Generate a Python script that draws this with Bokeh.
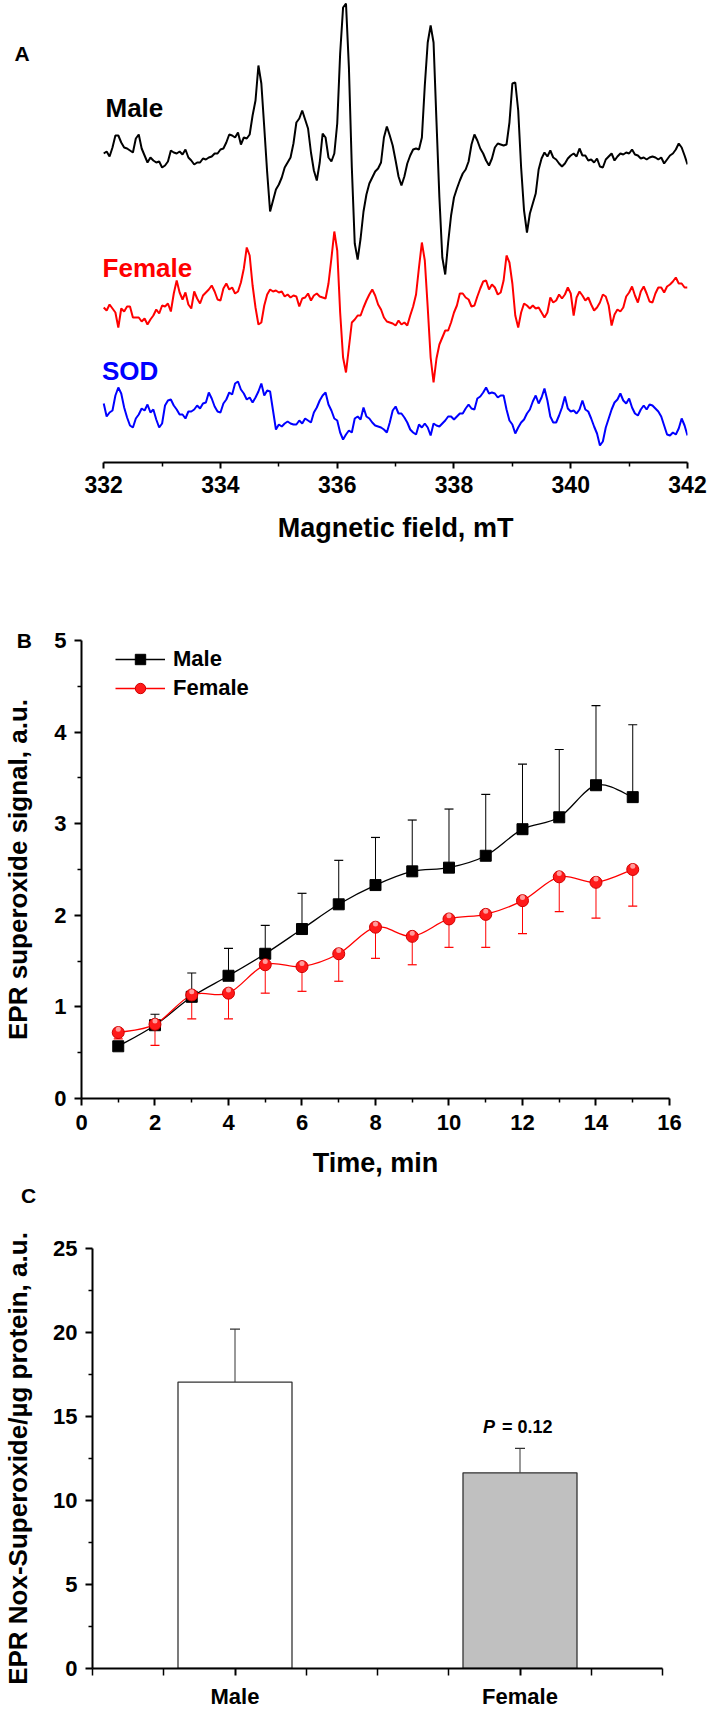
import numpy as np
from bokeh.plotting import figure
from bokeh.models import (Range1d, FixedTicker, Label, Legend, LegendItem, Whisker,
                          TeeHead, ColumnDataSource)
from bokeh.layouts import column, row
from bokeh.embed import file_html
from bokeh.resources import INLINE

FONT = "Liberation Sans"

# ------------------------------------------------------------------
# Panel A : EPR spectra (intensity, arbitrary units, sampled every 0.05 mT)
# ------------------------------------------------------------------
field_start, field_end = 332.0, 342.0
field_ticks = [332, 334, 336, 338, 340, 342]
field_minor = [333, 335, 337, 339, 341]
trace_names = ["Male", "Female", "SOD"]

male_epr = [2, 4, -1, 8, 20, 20, 13, 8, 7, 5,
            3, 17, 21, 7, 0, -7, -2, -5, -7, -6,
            -12, -10, -6, 5, 3, 2, 4, 1, 6, -2,
            -5, -9, -7, -7, -3, -4, -2, -1, 2, 2,
            6, 7, 13, 21, 20, 18, 23, 11, 18, 17,
            21, 40, 55, 90, 72, 28, -17, -56, -45, -34,
            -29, -22, -12, -7, -2, 12, 33, 37, 45, 36,
            27, 3, -15, -25, -7, 22, 18, -2, -6, 2,
            32, 102, 148, 152, 88, -12, -88, -104, -83, -56,
            -39, -28, -22, -16, -13, -7, 18, 29, 20, 10,
            -5, -21, -30, -21, -8, 0, 6, 7, 6, 18,
            70, 113, 130, 113, 34, -42, -102, -119, -87, -60,
            -42, -33, -25, -18, -14, -6, 11, 21, 15, 7,
            2, -5, -10, -3, 8, 12, 11, 10, 11, 33,
            72, 73, 45, -12, -55, -77, -58, -48, -38, -14,
            -3, 3, -1, 5, -2, -4, -8, -11, -8, -3,
            0, 2, -1, 7, 0, 0, -5, -4, -7, -3,
            -11, -12, -4, -1, 2, -5, -1, 2, 1, 3,
            2, 6, 1, 0, -3, -2, -4, -2, -1, -2,
            -4, -2, -8, -4, 0, 2, 6, 12, 8, 0,
            -9]

female_epr = [-2, -5, 1, -3, -7, -22, -3, -6, -1, -1,
              -12, -12, -12, -16, -13, -19, -14, -10, -4, -8,
              0, -1, 2, -6, 12, 25, 13, 6, 13, 1,
              -3, 14, 7, 2, 10, 13, 16, 20, 14, 6,
              5, 17, 22, 16, 18, 12, 14, 23, 37, 58,
              50, 20, -2, -19, -17, 0, 11, 16, 14, 15,
              13, 14, 9, 11, 8, 10, 9, -1, 7, 8,
              12, 5, 10, 12, 9, 8, 7, 22, 47, 74,
              55, -7, -52, -67, -42, -17, -14, -10, -10, -2,
              5, 11, 16, 10, 1, -4, -12, -16, -17, -18,
              -20, -15, -19, -17, -20, -10, -1, 11, 38, 63,
              45, -2, -52, -77, -53, -39, -32, -25, -25, -17,
              -7, 0, 12, 12, 8, 6, -1, 0, 9, 17,
              24, 25, 16, 21, 18, 11, 13, 25, 50, 43,
              22, -10, -22, -7, 2, 0, -3, 0, -3, -2,
              -7, -12, -7, 8, 3, 5, 11, 7, 11, 18,
              12, -10, 8, 14, 10, 5, 8, 1, -5, -2,
              3, 11, 9, 0, -20, -9, -4, -6, -2, 9,
              13, 19, 10, 3, 14, 19, 12, 4, 3, 12,
              18, 18, 13, 19, 21, 24, 28, 22, 22, 18,
              18]

sod_epr = [7, -6, -2, 0, 15, 23, 17, 3, -7, -15,
           -17, -8, -4, 2, 0, 6, -2, 1, -9, -17,
           -13, 5, 10, 11, 5, 1, -4, -4, -8, -1,
           -1, 1, 5, 2, 7, 8, 18, 12, 4, -1,
           -2, 7, 11, 18, 16, 27, 29, 21, 17, 11,
           13, 8, 13, 19, 27, 15, 20, 19, 0, -19,
           -14, -16, -13, -11, -13, -14, -14, -10, -13, -8,
           -10, -12, -2, 3, 10, 15, 18, 6, 0, -8,
           -10, -22, -29, -24, -20, -22, -8, -6, -9, 3,
           -6, -8, -12, -15, -16, -17, -19, -22, -12, 0,
           4, -3, -3, -7, -12, -19, -22, -24, -14, -17,
           -13, -17, -25, -13, -15, -16, -13, -10, -6, -6,
           -9, -6, -3, -3, 2, 6, 2, 1, 12, 14,
           18, 23, 17, 18, 17, 13, 15, 15, 1, -10,
           -14, -23, -17, -12, -9, -3, 1, 9, 15, 7,
           13, 22, 10, -6, -12, -12, -5, 3, 14, 2,
           -1, 0, -3, 1, 10, 1, -1, -8, -16, -23,
           -35, -31, -17, -8, 1, 8, 11, 17, 10, 7,
           12, 3, -3, -5, 1, 5, 1, 6, 5, 2,
           -1, -6, -15, -24, -25, -22, -24, -18, -8, -15,
           -25]

# ------------------------------------------------------------------
# Panel B : time course
# ------------------------------------------------------------------
time_min = [1, 2, 3, 4, 5, 6, 7, 8, 9, 10, 11, 12, 13, 14, 15]
male_mean = [0.57, 0.80, 1.11, 1.34, 1.58, 1.85, 2.12, 2.33, 2.48, 2.52, 2.65, 2.94, 3.07, 3.42, 3.29]
male_sem = [0.05, 0.12, 0.26, 0.30, 0.31, 0.39, 0.48, 0.52, 0.56, 0.64, 0.67, 0.71, 0.74, 0.87, 0.79]
female_mean = [0.72, 0.81, 1.13, 1.15, 1.46, 1.44, 1.58, 1.87, 1.77, 1.96, 2.01, 2.16, 2.42, 2.36, 2.50]
female_sem = [0.07, 0.23, 0.26, 0.28, 0.31, 0.27, 0.30, 0.34, 0.31, 0.31, 0.36, 0.36, 0.38, 0.39, 0.40]
time_ticks = [0, 2, 4, 6, 8, 10, 12, 14, 16]
time_minor = [1, 3, 5, 7, 9, 11, 13, 15]
signal_ticks = [0, 1, 2, 3, 4, 5]
signal_minor = [0.5, 1.5, 2.5, 3.5, 4.5]

# ------------------------------------------------------------------
# Panel C : bar chart
# ------------------------------------------------------------------
groups = ["Male", "Female"]
nox_mean = [17.05, 11.65]
nox_sem = [3.15, 1.45]
p_value = "0.12"
nox_ticks = [0, 5, 10, 15, 20, 25]
nox_minor = [2.5, 7.5, 12.5, 17.5, 22.5]

W = 709


def base_fig(height, xr, yr, left, right, top, bottom, y_axis=True):
    kw = dict(width=W, height=height, x_range=xr, y_range=yr,
              output_backend="svg", toolbar_location=None,
              min_border_left=left, min_border_right=right,
              min_border_top=top, min_border_bottom=bottom)
    if not y_axis:
        kw["y_axis_location"] = None
    p = figure(**kw)
    p.xgrid.visible = False
    p.ygrid.visible = False
    p.outline_line_color = None
    p.background_fill_color = "white"
    p.border_fill_color = "white"
    return p


def style_axis(ax, tick_size, title_size, label_standoff, title_standoff,
               major_out=7, minor_out=4):
    ax.axis_line_width = 2
    ax.axis_line_color = "black"
    ax.major_tick_line_width = 2
    ax.minor_tick_line_width = 1.5
    ax.major_tick_in = 0
    ax.minor_tick_in = 0
    ax.major_tick_out = major_out
    ax.minor_tick_out = minor_out
    ax.major_label_text_font = FONT
    ax.major_label_text_font_style = "bold"
    ax.major_label_text_font_size = tick_size
    ax.major_label_text_color = "black"
    ax.major_label_standoff = label_standoff
    ax.axis_label_text_font = FONT
    ax.axis_label_text_font_style = "bold"
    ax.axis_label_text_font_size = title_size
    ax.axis_label_text_color = "black"
    ax.axis_label_standoff = title_standoff


def make_label(x, y, text, size="19px", color="black", align="left", style="bold", x_offset=0):
    return Label(x=x, y=y, text=text, text_font=FONT, text_font_size=size,
                 text_font_style=style, text_color=color, text_align=align,
                 text_baseline="middle", x_offset=x_offset)


# ================= Panel A =================
pa = base_fig(568, Range1d(331.585, field_end), Range1d(-462, 0), 79, 22, 0, 106, y_axis=False)
trace_data = {"Male": male_epr, "Female": female_epr, "SOD": sod_epr}
trace_color = {"Male": "black", "Female": "#ff0000", "SOD": "#0000ff"}
trace_base = {"Male": -155, "Female": -305, "SOD": -410}
label_lift = {"Male": 48, "Female": 38, "SOD": 40}
label_dx = {"Male": 0.03, "Female": -0.02, "SOD": -0.03}
for name in trace_names:
    vals = np.asarray(trace_data[name], dtype=float)
    fld = np.linspace(field_start, field_end, len(vals))
    pa.line(fld, vals + trace_base[name], line_color=trace_color[name], line_width=2)
    pa.add_layout(make_label(field_start + label_dx[name], trace_base[name] + label_lift[name],
                             name, size="26px", color=trace_color[name]))
pa.xaxis.ticker = FixedTicker(ticks=field_ticks, minor_ticks=field_minor)
pa.xaxis.bounds = (field_start, field_end)
style_axis(pa.xaxis[0], "23px", "27px", 7, 8, major_out=6, minor_out=4)
pa.add_layout(make_label((field_start + field_end) / 2, -527, "Magnetic field, mT",
                         size="27px", align="center"), "below")
pa.add_layout(make_label(330.47, -53, "A", size="21px"), "left")

# ================= Panel B =================
pb = base_fig(612, Range1d(0, 16.49), Range1d(0, 5), 79, 22, 72, 82)


def catmull_bezier(xs, ys):
    P = np.column_stack([xs, ys]).astype(float)
    prev = np.vstack([P[:1], P[:-1]])
    nxt = np.vstack([P[1:], P[-1:]])
    tang = (nxt - prev) / 6.0
    c0 = P[:-1] + tang[:-1]
    c1 = P[1:] - tang[1:]
    return ColumnDataSource(dict(x0=P[:-1, 0], y0=P[:-1, 1], x1=P[1:, 0], y1=P[1:, 1],
                                 cx0=c0[:, 0], cy0=c0[:, 1], cx1=c1[:, 0], cy1=c1[:, 1]))


male_up = [m + s for m, s in zip(male_mean, male_sem)]
female_lo = [m - s for m, s in zip(female_mean, female_sem)]
pb.add_layout(Whisker(source=ColumnDataSource(dict(x=time_min, lo=male_mean, hi=male_up)),
                      base="x", lower="lo", upper="hi", line_color="black", line_width=1,
                      upper_head=TeeHead(size=9, line_color="black", line_width=1.2),
                      lower_head=None))
pb.add_layout(Whisker(source=ColumnDataSource(dict(x=time_min, lo=female_lo, hi=female_mean)),
                      base="x", lower="lo", upper="hi", line_color="#ff0000", line_width=1,
                      lower_head=TeeHead(size=9, line_color="#ff0000", line_width=1.2),
                      upper_head=None))

bz_kw = dict(x0="x0", y0="y0", x1="x1", y1="y1", cx0="cx0", cy0="cy0", cx1="cx1", cy1="cy1")
pb.bezier(source=catmull_bezier(time_min, male_mean), line_color="black", line_width=1.3, **bz_kw)
pb.bezier(source=catmull_bezier(time_min, female_mean), line_color="#ff0000", line_width=1.3, **bz_kw)

m_sc = pb.scatter(time_min, male_mean, marker="square", size=11,
                  fill_color="black", line_color="black")
f_sc = pb.scatter(time_min, female_mean, marker="circle", size=12,
                  fill_color="#ff1a1a", line_color="#d00000", line_width=1)
# glossy highlight on the female spheres (style only)
pb.scatter(time_min, [m + 0.035 for m in female_mean], marker="circle", size=5,
           fill_color="#ff9c9c", line_color=None)

nan = float("nan")
leg_m = pb.line([nan], [nan], line_color="black", line_width=1.3)
leg_f = pb.line([nan], [nan], line_color="#ff0000", line_width=1.3)
legend = Legend(items=[LegendItem(label="Male", renderers=[leg_m, m_sc]),
                       LegendItem(label="Female", renderers=[leg_f, f_sc])],
                location=(34, 397), glyph_width=50, glyph_height=26, label_height=26,
                label_standoff=8, spacing=3, padding=0, margin=0,
                border_line_color=None, background_fill_alpha=0,
                label_text_font=FONT, label_text_font_size="22px",
                label_text_font_style="bold", label_text_color="black")
pb.add_layout(legend)

pb.xaxis.ticker = FixedTicker(ticks=time_ticks, minor_ticks=time_minor)
pb.xaxis.bounds = (0, 16)
pb.yaxis.ticker = FixedTicker(ticks=signal_ticks, minor_ticks=signal_minor)
pb.yaxis.axis_label = "EPR superoxide signal, a.u."
style_axis(pb.xaxis[0], "22px", "27px", 9, 8)
style_axis(pb.yaxis[0], "22px", "26px", 8, 18)
pb.add_layout(make_label(8, -0.708, "Time, min", size="27px", align="center"), "below")
pb.add_layout(make_label(-1.76, 5.0, "B", size="21px"), "above")

# ================= Panel C =================
pc = base_fig(535, Range1d(0, 4), Range1d(0, 25), 88, 47, 68, 47)
bar_x = [1 + 2 * i for i in range(len(groups))]
bar_colors = ["white", "#c0c0c0"]
pc.vbar(x=bar_x, top=nox_mean, width=0.8, bottom=0, fill_color=bar_colors,
        line_color="#333333", line_width=1.3)
nox_up = [m + s for m, s in zip(nox_mean, nox_sem)]
pc.add_layout(Whisker(source=ColumnDataSource(dict(x=bar_x, lo=nox_mean, hi=nox_up)),
                      base="x", lower="lo", upper="hi", line_color="#333333", line_width=1,
                      upper_head=TeeHead(size=10, line_color="#333333", line_width=1.2),
                      lower_head=None))
pc.xaxis.ticker = FixedTicker(ticks=bar_x, minor_ticks=[0, 0.5, 1.5, 2, 2.5, 3.5, 4])
pc.xaxis.major_label_overrides = {bx: g for bx, g in zip(bar_x, groups)}
pc.yaxis.ticker = FixedTicker(ticks=nox_ticks, minor_ticks=nox_minor)
pc.yaxis.axis_label = "EPR Nox-Superoxide/\u00b5g protein, a.u."
style_axis(pc.xaxis[0], "22px", "26px", 8, 10, major_out=7, minor_out=7)
style_axis(pc.yaxis[0], "22px", "26px", 8, 17)
# P value above the Female bar
p_y = nox_up[1] + 1.25
pc.add_layout(make_label(bar_x[1], p_y, "P", size="18px", align="right",
                         style="bold italic", x_offset=-25))
pc.add_layout(make_label(bar_x[1], p_y, "= " + p_value, size="18px", align="left", x_offset=-18))
pc.add_layout(make_label(-0.502, 28.15, "C", size="21px"), "above")

layout = column(row(pa), row(pb), row(pc), spacing=0)
open("out.html", "w").write(file_html(layout, INLINE))
